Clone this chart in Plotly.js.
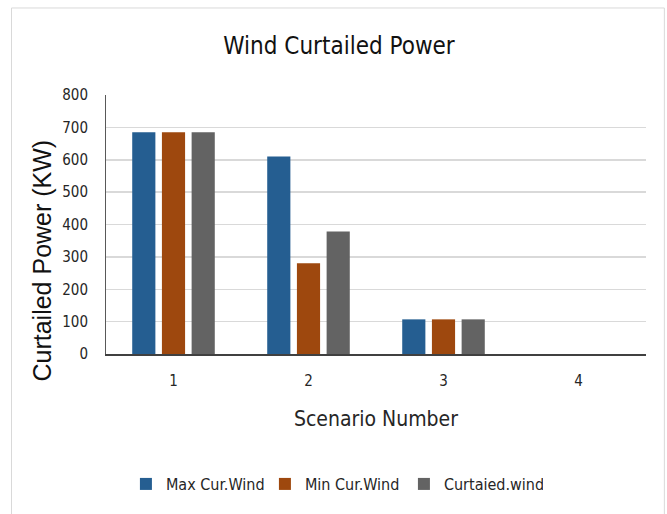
<!DOCTYPE html>
<html>
<head>
<meta charset="utf-8">
<script src="https://cdn.plot.ly/plotly-3.0.1.min.js"></script>
<style>
  html, body { margin: 0; padding: 0; background: #ffffff; }
  #chart { width: 667px; height: 514px; }
</style>
</head>
<body>
<div id="chart"></div>
<script>
// Scenario numbers on the x axis
const scenarios = ['1', '2', '3', '4'];

// Curtailed wind power per scenario (kW)
const maxCurWind = [685, 610, 107, 0];
const minCurWind = [685, 280, 107, 0];
const curtailedWind = [685, 378, 107, 0];

const seriesNames = ['Max Cur.Wind', 'Min Cur.Wind', 'Curtaied.wind'];
const seriesColors = ['#255E91', '#9E480E', '#636363'];

const yTicks = [0, 100, 200, 300, 400, 500, 600, 700, 800];

const narrow = '"DejaVu Sans Condensed", "Liberation Sans Narrow", sans-serif';
const textColor = '#262626';

const traces = [maxCurWind, minCurWind, curtailedWind].map((vals, i) => ({
  type: 'bar',
  name: seriesNames[i],
  x: scenarios,
  y: vals,
  marker: { color: seriesColors[i], line: { width: 0 } },
  hoverinfo: 'x+y+name'
}));

const layout = {
  width: 667,
  height: 514,
  margin: { l: 106, r: 21, t: 95, b: 160 },
  paper_bgcolor: '#ffffff',
  plot_bgcolor: '#ffffff',
  barmode: 'group',
  bargap: 0.34,
  bargroupgap: 0.22,
  showlegend: true,
  title: {
    text: 'Wind Curtailed Power',
    font: { family: narrow, size: 24, color: '#111111' },
    x: 339 / 667,
    xref: 'container',
    xanchor: 'center',
    y: 1 - 46 / 514,
    yref: 'container',
    yanchor: 'middle'
  },
  xaxis: {
    type: 'category',
    showgrid: false,
    showline: true,
    linecolor: '#404040',
    linewidth: 2,
    ticks: '',
    tickfont: { family: narrow, size: 15, color: textColor },
    ticklabelstandoff: 12,
    title: {
      text: 'Scenario Number',
      font: { family: narrow, size: 21, color: textColor },
      standoff: 22
    },
    fixedrange: true
  },
  yaxis: {
    range: [0, 800],
    tickvals: yTicks,
    showgrid: true,
    gridcolor: '#d9d9d9',
    gridwidth: 1.5,
    zeroline: false,
    showline: true,
    linecolor: '#595959',
    linewidth: 1,
    ticks: '',
    tickfont: { family: narrow, size: 15, color: textColor },
    ticklabelstandoff: 14,
    fixedrange: true
  },
  legend: {
    orientation: 'h',
    x: 0.423,
    xanchor: 'center',
    y: -0.502,
    yanchor: 'middle',
    font: { family: narrow, size: 16, color: textColor },
    itemwidth: 30,
    entrywidth: 94,
    entrywidthmode: 'pixels',
    tracegroupgap: 0
  },
  annotations: [{
    text: 'Curtailed Power (KW)',
    textangle: -90,
    xref: 'paper',
    yref: 'paper',
    x: -0.1194,
    y: 0.359,
    xanchor: 'center',
    yanchor: 'middle',
    showarrow: false,
    font: { family: '"Liberation Sans", Arial, sans-serif', size: 25, color: '#111111' }
  }],
  shapes: [{
    type: 'rect',
    xref: 'paper',
    yref: 'paper',
    x0: -0.175,
    x1: 1.034,
    y0: -0.7,
    y1: 1.336,
    line: { color: '#d9d9d9', width: 1 },
    fillcolor: 'rgba(0,0,0,0)',
    layer: 'below'
  }]
};

Plotly.newPlot('chart', traces, layout, { displayModeBar: false, staticPlot: true });
</script>
</body>
</html>
